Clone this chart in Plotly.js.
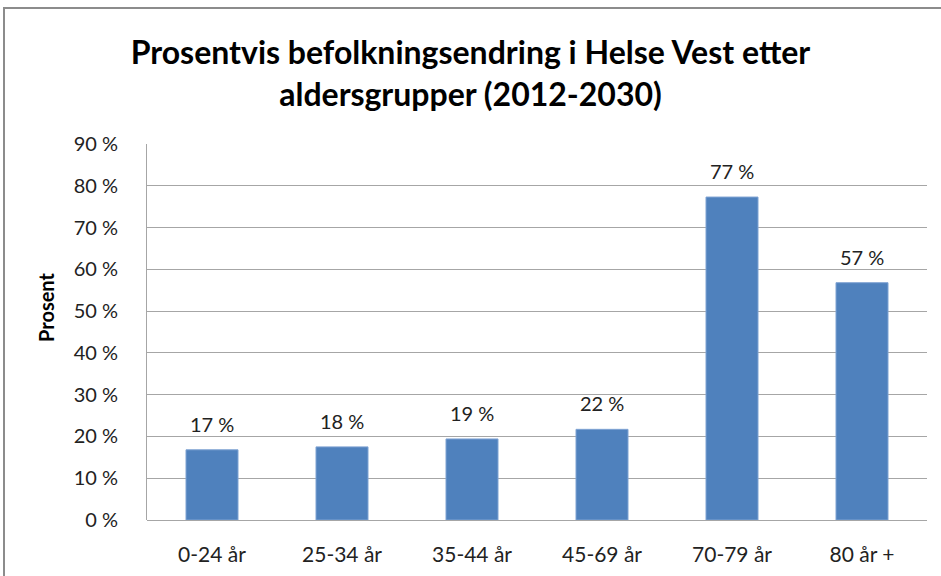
<!DOCTYPE html>
<html><head><meta charset="utf-8">
<script src="https://cdn.plot.ly/plotly-3.0.1.min.js"></script>
<style>html,body{margin:0;padding:0;background:#fff}#c{width:941px;height:576px}</style>
</head><body><div id="c"></div>
<script>
const categories = ["0-24 år","25-34 år","35-44 år","45-69 år","70-79 år","80 år +"];
const values = [16.8, 17.5, 19.4, 21.7, 77.3, 56.8];
const labels = ["17 %","18 %","19 %","22 %","77 %","57 %"];
const tickVals = [0,10,20,30,40,50,60,70,80,90];
const tickText = ["0 %","10 %","20 %","30 %","40 %","50 %","60 %","70 %","80 %","90 %"];

const W=941,H=576,L=147,R=14,T=144,B=56;
const pw=W-L-R, ph=H-T-B;
const px=x=>(x-L)/pw, py=y=>(H-B-y)/ph;

const font="Lato, 'Open Sans', sans-serif";
const dataLabels = categories.map((c,i)=>({
  x:c, y:values[i], xref:'x', yref:'y', text:labels[i], showarrow:false,
  yanchor:'middle', yshift:26, font:{family:font,size:20,color:'#222'}
}));
Plotly.newPlot('c',[{
  type:'bar', x:categories, y:values,
  marker:{color:'#4F81BD',line:{color:'#7FA3D3',width:1}},
  hoverinfo:'none'
}],{
  width:W,height:H,
  margin:{l:L,r:R,t:T,b:B,pad:0},
  paper_bgcolor:'#fff',plot_bgcolor:'#fff',
  bargap:0.6,
  showlegend:false,
  title:{text:"<b>Prosentvis befolkningsendring i Helse Vest etter<br>aldersgrupper (2012-2030)</b>",
    font:{family:font,size:32,color:'#000'},x:0.5,xanchor:'center',y:1-64/H,yanchor:'middle'},
  xaxis:{type:'category',showgrid:false,ticks:'',showline:false,
    tickfont:{family:font,size:21,color:'#222'},ticklabelstandoff:20,fixedrange:true},
  yaxis:{range:[0,90],tickvals:tickVals,ticktext:tickText,showgrid:true,gridcolor:'#A6A6A6',gridwidth:1,
    zeroline:true,zerolinecolor:'#A6A6A6',zerolinewidth:1,
    showline:true,linecolor:'#A6A6A6',linewidth:1,ticks:'',
    tickfont:{family:font,size:20,color:'#222'},ticklabelstandoff:24,fixedrange:true},
  annotations:[{xref:'paper',yref:'paper',x:px(46),y:py(307),text:"<b>Prosent</b>",textangle:-90,
    showarrow:false,xanchor:'center',yanchor:'middle',font:{family:font,size:20,color:'#000'}}].concat(dataLabels),
  shapes:[{type:'rect',xref:'paper',yref:'paper',x0:px(4),x1:px(960),y0:py(8),y1:py(600),
    line:{color:'#8C8C8C',width:2},fillcolor:'rgba(0,0,0,0)',layer:'below'}]
},{staticPlot:true});
</script></body></html>
